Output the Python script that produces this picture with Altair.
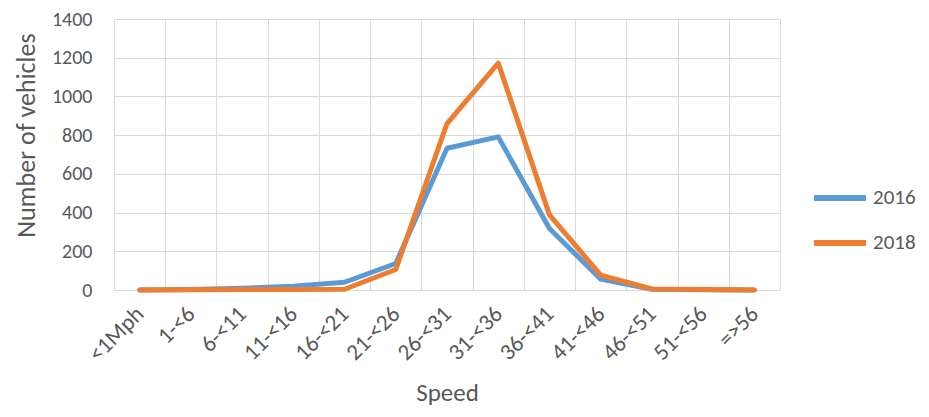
import altair as alt
import pandas as pd

speeds = ["<1Mph", "1-<6", "6-<11", "11-<16", "16-<21", "21-<26", "26-<31",
          "31-<36", "36-<41", "41-<46", "46-<51", "51-<56", "=>56"]
v2016 = [0, 2, 9, 20, 40, 137, 732, 791, 318, 56, 4, 1, 0]
v2018 = [0, 1, 2, 3, 4, 106, 860, 1172, 388, 77, 5, 2, 0]
years = ["2016", "2018"]
colors = ["#5B9BD5", "#ED7D31"]

rows = []
for s, a, b in zip(speeds, v2016, v2018):
    rows.append({"speed": s, "year": "2016", "value": a})
    rows.append({"speed": s, "year": "2018", "value": b})
df = pd.DataFrame(rows)

FONT = "Carlito, Lato, sans-serif"
TXT = "#595959"
GRID = "#d9d9d9"

chart = alt.Chart(df).mark_line(strokeWidth=5, strokeCap="round", strokeJoin="round").encode(
    x=alt.X("speed:N", sort=speeds, bandPosition=0.5,
            scale=alt.Scale(type="band", paddingInner=0, paddingOuter=0),
            axis=alt.Axis(title="Speed", labelAngle=-45, labelAlign="right", labelBaseline="middle",
                          labelPadding=20, labelFontSize=23, labelColor=TXT,
                          titleFontSize=25, titleColor=TXT, titleFontWeight="normal", titlePadding=15,
                          grid=True, gridColor=GRID, tickBand="extent", ticks=False,
                          domain=True, domainColor=GRID, labelOverlap=False)),
    y=alt.Y("value:Q", scale=alt.Scale(domain=[0, 1400]),
            axis=alt.Axis(title="Number of vehicles", values=list(range(0, 1401, 200)), format="d",
                          labelFontSize=20, labelColor=TXT, labelPadding=22,
                          titleFontSize=26, titleColor=TXT, titleFontWeight="normal",
                          titleX=-80, titleY=116, titleBaseline="alphabetic", titleAngle=270,
                          grid=True, gridColor=GRID, ticks=False, domain=False)),
    color=alt.Color("year:N", scale=alt.Scale(domain=years, range=colors),
                    legend=alt.Legend(title=None, orient="none", legendX=697, legendY=150,
                                      symbolType="stroke", symbolSize=2700, symbolStrokeWidth=6,
                                      labelFontSize=21, labelColor=TXT, rowPadding=4, labelOffset=4)),
).properties(
    width=666, height=271,
    autosize=alt.AutoSizeParams(type="none"),
    padding={"left": 106, "top": 11, "right": 141, "bottom": 119},
).configure(font=FONT).configure_view(stroke=None)

chart.save("out.html", embed_options={"renderer": "svg", "actions": False})
